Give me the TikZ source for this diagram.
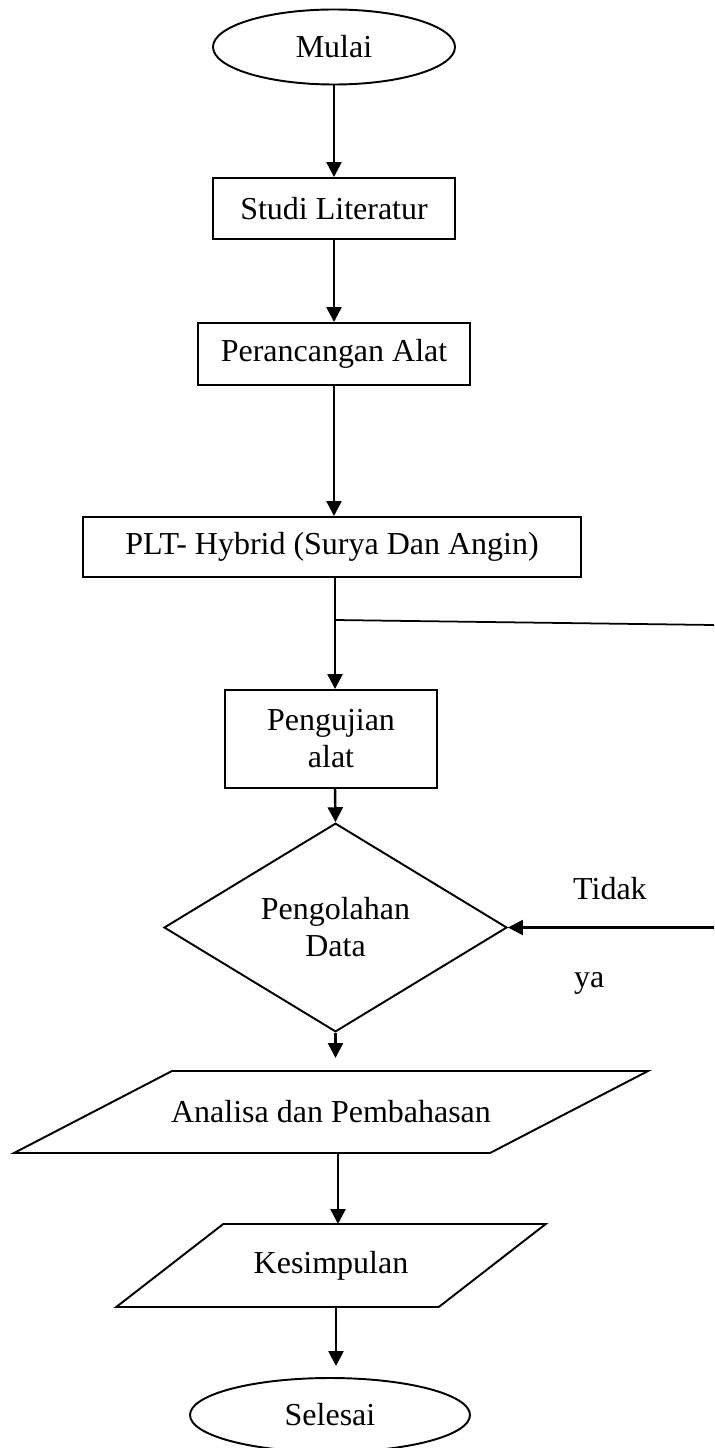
\documentclass[tikz,border=0pt]{standalone}
\usepackage{fontspec}
\setmainfont{Liberation Serif}
\usetikzlibrary{shapes.geometric,arrows.meta}

\begin{document}
\begin{tikzpicture}[
  font=\fontsize{18.2}{21}\selectfont,
  kotak/.style={draw, line width=1.1pt, rectangle, inner sep=0pt, align=center},
  oval/.style={draw, line width=1.1pt, ellipse, inner sep=0pt},
  keputusan/.style={draw, line width=1.1pt, diamond, inner sep=0pt, align=center},
  masukan/.style={inner sep=0pt, outer sep=0pt, align=center},
  panah/.style={line width=1.4pt, -{Triangle[length=3mm, width=3mm]}},
]

% ── Frame: x = px/50, y = -py/50 ──
\useasboundingbox (0, 0) rectangle (14.28, -28.96);

% ── Proses utama ──
\node[oval, minimum width=4.84cm, minimum height=1.5cm] (mulai) at (6.68, -0.94) {Mulai};
\node[kotak, minimum width=4.84cm, minimum height=1.22cm] (studi) at (6.68, -4.17) {Studi Literatur};
\node[kotak, minimum width=5.44cm, minimum height=1.24cm] (rancang) at (6.68, -7.08) {Perancangan Alat};
\node[kotak, minimum width=9.96cm, minimum height=1.2cm] (plt) at (6.64, -10.94) {PLT- Hybrid (Surya Dan Angin)};
\node[kotak, minimum width=4.24cm, minimum height=1.96cm] (uji) at (6.62, -14.78) {Pengujian\\alat};
\node[keputusan, minimum width=6.86cm, minimum height=3.3cm] (olah) at (6.71, -18.55) {Pengolahan\\Data};

% ── Input / output ──
\node[masukan, minimum width=9.52cm, minimum height=1.64cm] (analisa) at (6.62, -22.24) {Analisa dan Pembahasan};
\draw[line width=1.1pt] ([xshift=-1.58cm]analisa.south west) -- ([xshift=1.58cm]analisa.north west)
  -- ([xshift=1.58cm]analisa.north east) -- ([xshift=-1.58cm]analisa.south east) -- cycle;
\node[masukan, minimum width=6.45cm, minimum height=1.66cm] (simpul) at (6.62, -25.31) {Kesimpulan};
\draw[line width=1.1pt] ([xshift=-1.07cm]simpul.south west) -- ([xshift=1.07cm]simpul.north west)
  -- ([xshift=1.07cm]simpul.north east) -- ([xshift=-1.07cm]simpul.south east) -- cycle;
\node[oval, minimum width=5.6cm, minimum height=1.48cm] (selesai) at (6.6, -28.3) {Selesai};

% ── Panah ──
\draw[panah] (mulai.south) -- (mulai.south |- studi.north);
\draw[panah] (studi.south) -- (studi.south |- rancang.north);
\draw[panah] (rancang.south) -- (rancang.south |- plt.north);
\draw[panah] (plt.south -| 6.7,0) -- (uji.north -| 6.7,0);
\draw[panah] (uji.south -| 6.7,0) -- (olah.north);
\draw[panah, shorten >=0.26cm] (olah.south) -- (olah.south |- analisa.north);
\draw[panah] (analisa.south -| 6.76,0) -- (simpul.north -| 6.76,0);
\draw[panah, shorten >=0.22cm] (simpul.south -| 6.72,0) -- (selesai.north -| 6.72,0);

% ── Umpan balik ──
\coordinate (cabang) at (6.7, -12.4);
\coordinate (kanan1) at (14.28, -12.5);
\coordinate (kanan2) at (14.28, -18.55);
\draw[line width=1pt] (cabang) -- (kanan1);
\draw[panah] (kanan2) -- (olah.east);

\node[anchor=base west] (tidak) at (11.34, -17.98) {Tidak};
\node[anchor=base west] (ya) at (11.36, -19.74) {ya};

\end{tikzpicture}
\end{document}
